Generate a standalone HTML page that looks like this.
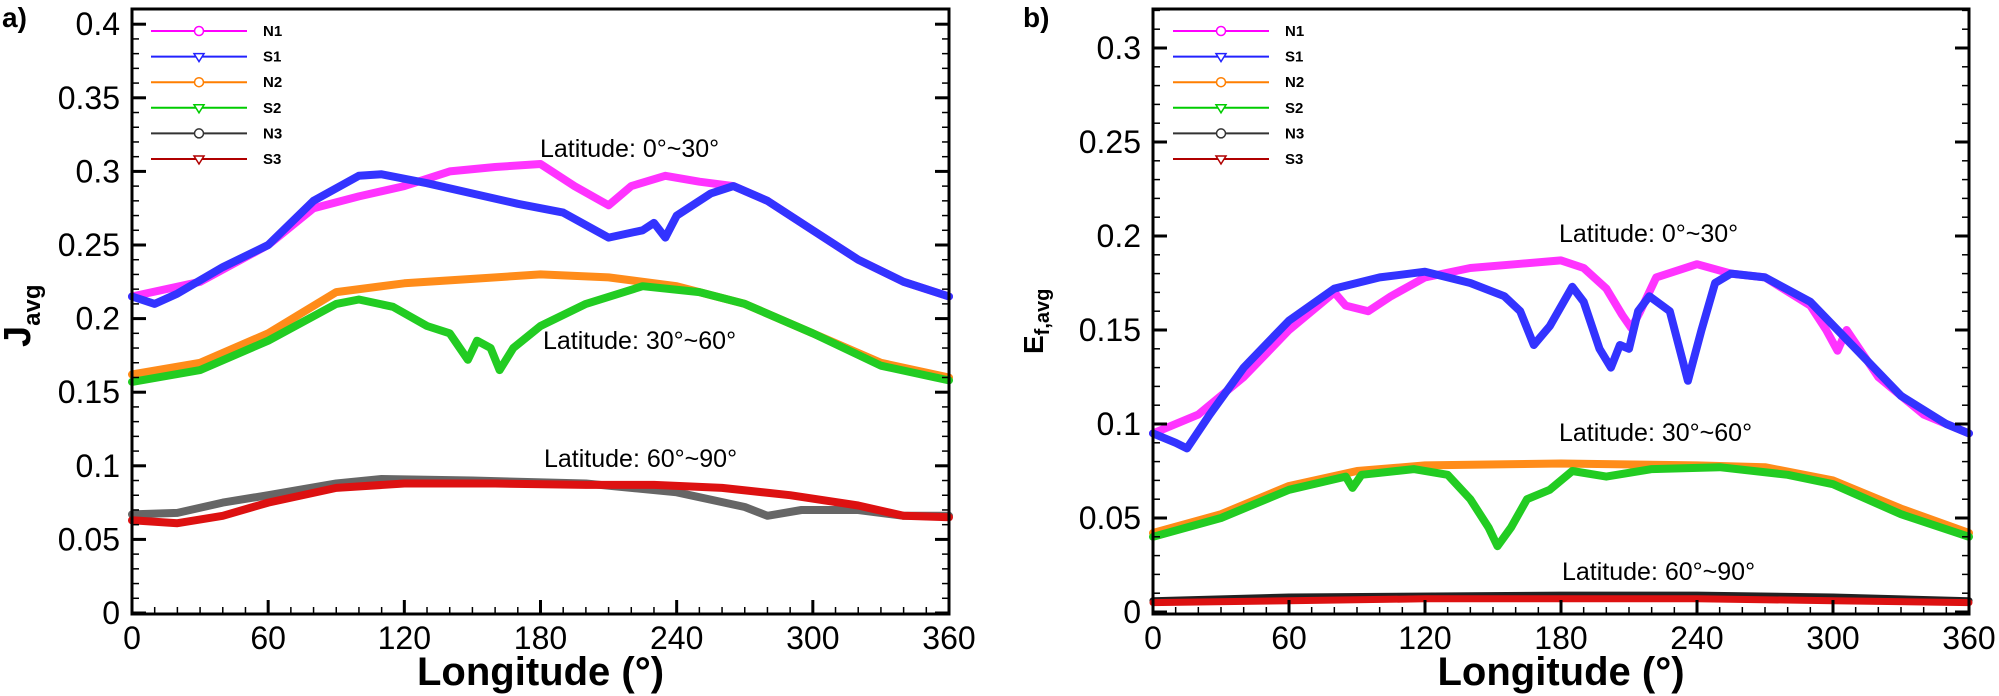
<!DOCTYPE html><html><head><meta charset="utf-8"><style>body{margin:0;background:#fff}svg{display:block}text{font-family:"Liberation Sans",Arial,sans-serif}</style></head><body>
<svg id="s" width="1999" height="696" xmlns="http://www.w3.org/2000/svg"></svg>
<script>
const S=document.getElementById('s');let h='';
function P(ax,d,col,w,op){let pts=[];let k=Object.keys(d).map(Number).sort((a,b)=>a-b);
for(let l of k)pts.push(ax.x(l).toFixed(1)+','+ax.y(d[l]).toFixed(1));
h+=`<polyline points="${pts.join(' ')}" fill="none" stroke="${col}" stroke-width="${w}" stroke-linejoin="round" stroke-linecap="round" opacity="${op||1}"/>`;}
function axes(ax,x0,x1,yTop,yBot,ymax){
 h+=`<rect x="${x0}" y="${yTop}" width="${x1-x0}" height="${yBot-yTop}" fill="none" stroke="#000" stroke-width="3"/>`;
 for(let l=0;l<=360;l+=10){let x=ax.x(l),mj=l%60==0;h+=`<line x1="${x}" y1="${yBot}" x2="${x}" y2="${yBot-(mj?14:7)}" stroke="#000" stroke-width="${mj?3:1.5}"/>`;
 if(mj)h+=`<text x="${x}" y="649" font-size="32" text-anchor="middle">${l}</text>`;}
 for(let i=0;i<=Math.round(ymax*100);i++){let v=i/100,y=ax.y(v),mj=i%5==0;
 h+=`<line x1="${x0}" y1="${y}" x2="${x0+(mj?14:7)}" y2="${y}" stroke="#000" stroke-width="${mj?3:1.5}"/><line x1="${x1}" y1="${y}" x2="${x1-(mj?14:7)}" y2="${y}" stroke="#000" stroke-width="${mj?3:1.5}"/>`;
 if(mj){let t=(i==0)?'0':(v.toFixed(2).replace(/0$/,''));h+=`<text x="${x0-12}" y="${y+11}" font-size="32" text-anchor="end">${t}</text>`;}}
 h+=`<text x="${(x0+x1)/2}" y="685" font-size="40" font-weight="bold" text-anchor="middle">Longitude (°)</text>`;
}
function legend(x0,tx){const L=[['N1','#ff00ff','o'],['S1','#2222ff','v'],['N2','#ff7f00','o'],['S2','#00cc00','v'],['N3','#333','o'],['S3','#b00000','v']];
L.forEach((e,i)=>{let y=31+i*25.6,m=x0+48;h+=`<line x1="${x0}" y1="${y}" x2="${x0+96}" y2="${y}" stroke="${e[1]}" stroke-width="2"/>`;
if(e[2]=='o')h+=`<circle cx="${m}" cy="${y}" r="4.5" fill="#fff" stroke="${e[1]}" stroke-width="1.5"/>`;else h+=`<polygon points="${m-5},${y-3} ${m+5},${y-3} ${m},${y+5}" fill="#fff" stroke="${e[1]}" stroke-width="1.5"/>`;
h+=`<text x="${tx}" y="${y+5}" font-size="15" font-weight="bold">${e[0]}</text>`;});}
const A={x:l=>132+l*817/360,y:v=>613-v*1472};
const B={x:l=>1153+l*816/360,y:v=>612-v*1880};
// panel a
P(A,{0:0.162,30:0.17,60:0.19,90:0.218,120:0.224,150:0.227,180:0.23,210:0.228,240:0.222,270:0.21,300:0.19,330:0.17,360:0.16},'#ff8c1a',8);
P(A,{0:0.157,30:0.165,60:0.185,90:0.21,100:0.213,115:0.208,130:0.195,140:0.19,148:0.172,152:0.185,158:0.18,162:0.165,168:0.18,180:0.195,200:0.21,225:0.222,250:0.218,270:0.21,300:0.19,330:0.168,360:0.158},'#22cc22',8);
P(A,{0:0.215,30:0.225,60:0.25,80:0.275,100:0.283,120:0.29,140:0.3,160:0.303,180:0.305,195:0.29,210:0.277,220:0.29,235:0.297,250:0.293,265:0.29,280:0.28,300:0.26,320:0.24,340:0.225,360:0.215},'#ff33ff',8);
P(A,{0:0.215,10:0.21,20:0.217,40:0.235,60:0.25,80:0.28,100:0.297,110:0.298,130:0.292,150:0.285,170:0.278,190:0.272,210:0.255,225:0.26,230:0.265,235:0.255,240:0.27,255:0.285,265:0.29,280:0.28,300:0.26,320:0.24,340:0.225,360:0.215},'#3333ff',8);
P(A,{0:0.067,20:0.068,40:0.075,60:0.08,90:0.088,110:0.091,150:0.09,200:0.088,240:0.082,270:0.072,280:0.066,295:0.07,320:0.07,340:0.066,360:0.066},'#666',8);
P(A,{0:0.063,20:0.061,40:0.066,60:0.075,90:0.085,120:0.088,160:0.088,200:0.087,230:0.087,260:0.085,290:0.08,320:0.073,340:0.066,360:0.065},'#dd1111',8);
// panel b
P(B,{0:0.042,30:0.052,60:0.067,90:0.075,120:0.078,180:0.079,240:0.078,270:0.077,300:0.07,330:0.055,360:0.042},'#ff8c1a',8);
P(B,{0:0.04,30:0.05,60:0.065,85:0.072,88:0.066,92:0.073,115:0.076,130:0.073,140:0.06,148:0.045,152:0.035,158:0.045,165:0.06,175:0.065,185:0.075,200:0.072,220:0.076,250:0.077,280:0.073,300:0.068,330:0.052,360:0.04},'#22cc22',8);
P(B,{0:0.095,20:0.105,40:0.125,60:0.15,80:0.17,85:0.163,95:0.16,105:0.168,120:0.178,140:0.183,160:0.185,180:0.187,190:0.183,200:0.172,207:0.158,211:0.151,215:0.16,222:0.178,240:0.185,255:0.18,270:0.178,290:0.163,297:0.15,302:0.139,306:0.15,320:0.125,340:0.105,360:0.095},'#ff33ff',8);
P(B,{0:0.095,10:0.09,15:0.087,25:0.105,40:0.13,60:0.155,80:0.172,100:0.178,120:0.181,140:0.175,155:0.168,162:0.16,168:0.142,175:0.152,185:0.173,190:0.165,197:0.14,202:0.13,206:0.142,210:0.14,214:0.16,219:0.168,228:0.16,236:0.123,242:0.15,248:0.175,255:0.18,270:0.178,290:0.165,310:0.14,330:0.115,350:0.1,360:0.095},'#3333ff',8);
P(B,{0:0.006,60:0.008,180:0.009,240:0.009,300:0.008,360:0.006},'#222',7);
P(B,{0:0.005,60:0.006,120:0.007,240:0.007,300:0.006,360:0.005},'#dd1111',7);
axes(A,132,949,9,614,0.4);
axes(B,1153,1969,9,614,0.32);
legend(151,263);legend(1173,1285);
h+=`<text x="2" y="27" font-size="28" font-weight="bold" font-family="Liberation Serif">a)</text>`;
h+=`<text x="1023" y="27" font-size="28" font-weight="bold" font-family="Liberation Serif">b)</text>`;
h+=`<text transform="translate(30,347) rotate(-90)" font-size="38" font-weight="bold">J<tspan font-size="24" dy="10">avg</tspan></text>`;
h+=`<text transform="translate(1043,354) rotate(-90)" font-size="28" font-weight="bold">E<tspan font-size="20" dy="6">f,avg</tspan></text>`;
[[540,157,'0°~30°'],[543,349,'30°~60°'],[544,467,'60°~90°'],[1559,242,'0°~30°'],[1559,441,'30°~60°'],[1562,580,'60°~90°']].forEach(t=>h+=`<text x="${t[0]}" y="${t[1]}" font-size="25">Latitude: ${t[2]}</text>`);
S.innerHTML=h;
</script></body></html>
